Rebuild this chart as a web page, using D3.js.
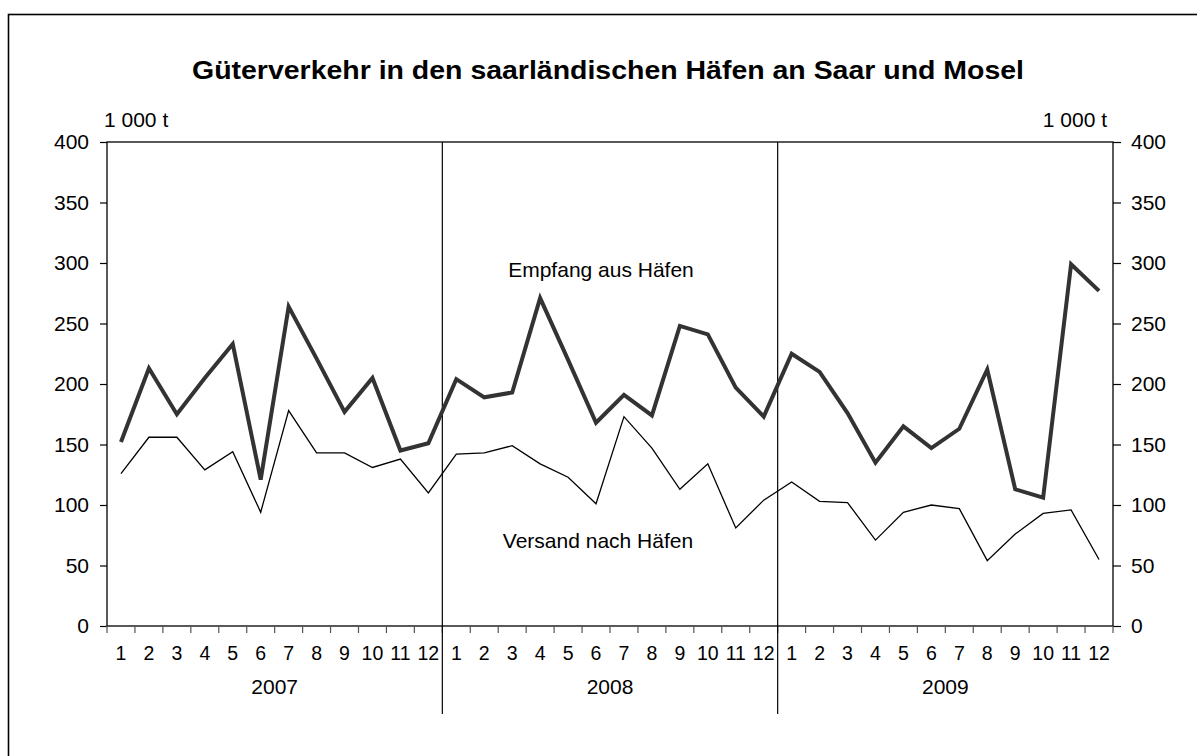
<!DOCTYPE html>
<html><head><meta charset="utf-8">
<script src="https://cdn.jsdelivr.net/npm/d3@7"></script>
<style>body{margin:0;background:#fff;} svg{display:block;font-family:Arial,"Liberation Sans",sans-serif;}</style>
</head><body>
<svg id="c" width="1197" height="756"></svg>
<script>
const years = ["2007","2008","2009"];
const months = ["1","2","3","4","5","6","7","8","9","10","11","12"];
const yTicks = [0,50,100,150,200,250,300,350,400];
const empfang = [152,213,175,205,233,121,264,221,177,205,145,151,
                 204,189,193,271,220,168,191,174,248,241,197,173,
                 225,210,176,135,165,147,163,212,113,106,299,277];
const versand = [126,156,156,129,144,94,178,143,143,131,138,110,
                 142,143,149,134,123,101,173,147,113,134,81,104,
                 119,103,102,71,94,100,97,54,76,93,96,55];
const title = "Güterverkehr in den saarländischen Häfen an Saar und Mosel";
const unit = "1 000 t";
const labelEmpfang = "Empfang aus Häfen";
const labelVersand = "Versand nach Häfen";

const svg = d3.select("#c");
const L = 107, R = 1113, T = 142, B = 626;
const idx = d3.range(years.length * months.length);
const x = d3.scaleBand().domain(idx).range([L, R]).paddingInner(0).paddingOuter(0);
const y = d3.scaleLinear().domain([0, 400]).range([B, T]);
const FS = 21;

// outer frame
svg.append("rect").attr("x", 8.5).attr("y", 14.5).attr("width", 1300).attr("height", 900)
  .attr("fill", "none").attr("stroke", "#000").attr("stroke-width", 1.6);

// title
svg.append("text").attr("x", 608).attr("y", 79).attr("text-anchor", "middle")
  .attr("font-size", 25).attr("font-weight", "bold")
  .attr("textLength", 832).attr("lengthAdjust", "spacingAndGlyphs").text(title);
svg.append("text").attr("x", 104).attr("y", 127).attr("font-size", FS).text(unit);
svg.append("text").attr("x", 1107).attr("y", 127).attr("text-anchor", "end").attr("font-size", FS).text(unit);

// plot frame
svg.append("rect").attr("x", L).attr("y", T).attr("width", R - L).attr("height", B - T)
  .attr("fill", "none").attr("stroke", "#000").attr("stroke-width", 1.3);

// y axes
const yl = svg.append("g").attr("transform", `translate(${L},0)`)
  .call(d3.axisLeft(y).tickValues(yTicks).tickSize(7).tickPadding(11).tickFormat(d3.format("d")));
const yr = svg.append("g").attr("transform", `translate(${R},0)`)
  .call(d3.axisRight(y).tickValues(yTicks).tickSize(8).tickPadding(10).tickFormat(d3.format("d")));
[yl, yr].forEach(g => {
  g.select(".domain").remove();
  g.selectAll("text").attr("font-size", FS).attr("font-family", "Arial, 'Liberation Sans', sans-serif").attr("fill", "#000");
  g.selectAll("line").attr("stroke", "#000").attr("stroke-width", 1.2);
});

// x ticks at band boundaries
const bounds = d3.range(idx.length + 1).map(i => L + i * x.bandwidth());
svg.append("g").selectAll("line").data(bounds).join("line")
  .attr("x1", d => d).attr("x2", d => d).attr("y1", B).attr("y2", B + 7)
  .attr("stroke", "#555").attr("stroke-width", 1.2);

// month labels
svg.append("g").selectAll("text").data(idx).join("text")
  .attr("x", d => x(d) + x.bandwidth() / 2).attr("y", 660)
  .attr("text-anchor", "middle").attr("font-size", 19.5)
  .text(d => months[d % 12]);

// year labels
svg.append("g").selectAll("text").data(years).join("text")
  .attr("x", (d, i) => x(i * 12) + 6 * x.bandwidth()).attr("y", 694)
  .attr("text-anchor", "middle").attr("font-size", FS).text(d => d);

// year separators
svg.append("g").selectAll("line").data([12, 24]).join("line")
  .attr("x1", d => x(d)).attr("x2", d => x(d)).attr("y1", T).attr("y2", 714)
  .attr("stroke", "#000").attr("stroke-width", 1.2);

const line = d3.line().x((d, i) => x(i) + x.bandwidth() / 2).y(d => y(d));
svg.append("path").datum(versand).attr("d", line).attr("fill", "none")
  .attr("stroke", "#000").attr("stroke-width", 1.3).attr("stroke-linejoin", "miter");
svg.append("path").datum(empfang).attr("d", line).attr("fill", "none")
  .attr("stroke", "#333").attr("stroke-width", 4).attr("stroke-linejoin", "miter");

svg.append("text").attr("x", 601).attr("y", 277).attr("text-anchor", "middle").attr("font-size", FS).text(labelEmpfang);
svg.append("text").attr("x", 598).attr("y", 548).attr("text-anchor", "middle").attr("font-size", FS).text(labelVersand);
</script>
</body></html>
